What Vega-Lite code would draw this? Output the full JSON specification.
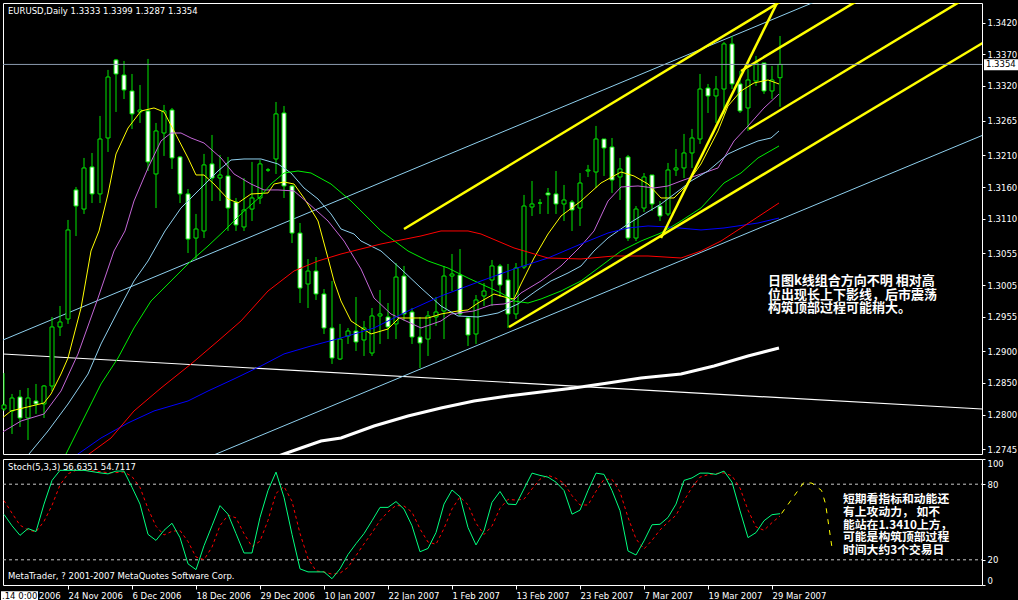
{
"$schema":"https://vega.github.io/schema/vega-lite/v6.json",
"background":"#000000",
"padding":{"left":0,"top":2,"right":0,"bottom":0},
"spacing":3,
"config":{"view":{"stroke":"#ffffff","strokeWidth":1},"scale":{"continuousPadding":0},"axis":{"labelColor":"#ffffff","tickColor":"#ffffff","domain":false,"grid":false,"title":null,"labelFont":"DejaVu Sans","labelFontSize":8.5}},
"datasets":{
"candles":[
{"i":0,"o":1.28088,"h":1.28657,"l":1.28057,"c":1.28152},
{"i":1,"o":1.28057,"h":1.28326,"l":1.27693,"c":1.28262},
{"i":2,"o":1.28278,"h":1.28389,"l":1.27804,"c":1.27946},
{"i":3,"o":1.27946,"h":1.2842,"l":1.27598,"c":1.28262},
{"i":4,"o":1.28215,"h":1.28484,"l":1.2801,"c":1.28168},
{"i":5,"o":1.28168,"h":1.28468,"l":1.27946,"c":1.28452},
{"i":6,"o":1.28452,"h":1.29544,"l":1.28373,"c":1.29386},
{"i":7,"o":1.29386,"h":1.29718,"l":1.29243,"c":1.29465},
{"i":8,"o":1.29512,"h":1.31079,"l":1.29434,"c":1.30921},
{"i":9,"o":1.31554,"h":1.31601,"l":1.30825,"c":1.313},
{"i":10,"o":1.31252,"h":1.3206,"l":1.31174,"c":1.31902},
{"i":11,"o":1.31918,"h":1.32139,"l":1.31347,"c":1.31491},
{"i":12,"o":1.31491,"h":1.32725,"l":1.31347,"c":1.3236},
{"i":13,"o":1.32376,"h":1.33453,"l":1.32155,"c":1.33341},
{"i":14,"o":1.33611,"h":1.33627,"l":1.32788,"c":1.33389},
{"i":15,"o":1.33373,"h":1.33595,"l":1.32993,"c":1.33136},
{"i":16,"o":1.3312,"h":1.33389,"l":1.32519,"c":1.32757},
{"i":17,"o":1.32788,"h":1.33215,"l":1.32614,"c":1.32819},
{"i":18,"o":1.32804,"h":1.33627,"l":1.31854,"c":1.31997},
{"i":19,"o":1.31807,"h":1.32614,"l":1.31268,"c":1.32487},
{"i":20,"o":1.32455,"h":1.32899,"l":1.32092,"c":1.32804},
{"i":21,"o":1.32819,"h":1.32851,"l":1.31886,"c":1.3206},
{"i":22,"o":1.32076,"h":1.32092,"l":1.31347,"c":1.31491},
{"i":23,"o":1.31491,"h":1.31569,"l":1.30556,"c":1.30777},
{"i":24,"o":1.30793,"h":1.31174,"l":1.30461,"c":1.30936},
{"i":25,"o":1.30905,"h":1.32124,"l":1.30793,"c":1.3195},
{"i":26,"o":1.31966,"h":1.32424,"l":1.31379,"c":1.31743},
{"i":27,"o":1.31743,"h":1.32108,"l":1.31379,"c":1.31791},
{"i":28,"o":1.31775,"h":1.32076,"l":1.30905,"c":1.31268},
{"i":29,"o":1.31363,"h":1.31427,"l":1.30905,"c":1.31},
{"i":30,"o":1.30968,"h":1.31743,"l":1.30905,"c":1.31237},
{"i":31,"o":1.31252,"h":1.31997,"l":1.31063,"c":1.31427},
{"i":32,"o":1.31427,"h":1.32029,"l":1.31332,"c":1.31966},
{"i":33,"o":1.3187,"h":1.319,"l":1.3184,"c":1.3187},
{"i":34,"o":1.32044,"h":1.32946,"l":1.31807,"c":1.32757},
{"i":35,"o":1.32772,"h":1.32883,"l":1.31427,"c":1.31617},
{"i":36,"o":1.31617,"h":1.31633,"l":1.30714,"c":1.30872},
{"i":37,"o":1.30872,"h":1.31031,"l":1.29765,"c":1.30002},
{"i":38,"o":1.30066,"h":1.30461,"l":1.29686,"c":1.30271},
{"i":39,"o":1.30271,"h":1.30493,"l":1.29813,"c":1.29908},
{"i":40,"o":1.29908,"h":1.29986,"l":1.29275,"c":1.2937},
{"i":41,"o":1.2937,"h":1.30113,"l":1.28801,"c":1.28895},
{"i":42,"o":1.28879,"h":1.29434,"l":1.28863,"c":1.29195},
{"i":43,"o":1.29243,"h":1.2937,"l":1.29117,"c":1.29322},
{"i":44,"o":1.29322,"h":1.2986,"l":1.29006,"c":1.29148},
{"i":45,"o":1.2918,"h":1.29481,"l":1.28927,"c":1.2937},
{"i":46,"o":1.28974,"h":1.29686,"l":1.28927,"c":1.2956},
{"i":47,"o":1.2956,"h":1.29971,"l":1.29117,"c":1.29592},
{"i":48,"o":1.29544,"h":1.29765,"l":1.29195,"c":1.29386},
{"i":49,"o":1.29434,"h":1.30398,"l":1.29195,"c":1.30176},
{"i":50,"o":1.30192,"h":1.30351,"l":1.29481,"c":1.29592},
{"i":51,"o":1.29623,"h":1.29686,"l":1.29117,"c":1.29227},
{"i":52,"o":1.29227,"h":1.29544,"l":1.28737,"c":1.29133},
{"i":53,"o":1.29195,"h":1.29639,"l":1.28927,"c":1.2956},
{"i":54,"o":1.29544,"h":1.2986,"l":1.29402,"c":1.29623},
{"i":55,"o":1.29639,"h":1.30351,"l":1.29195,"c":1.30192},
{"i":56,"o":1.30192,"h":1.30541,"l":1.29955,"c":1.30224},
{"i":57,"o":1.30208,"h":1.30619,"l":1.2956,"c":1.29592},
{"i":58,"o":1.29529,"h":1.2956,"l":1.29085,"c":1.29259},
{"i":59,"o":1.29275,"h":1.29892,"l":1.29117,"c":1.29813},
{"i":60,"o":1.29876,"h":1.30081,"l":1.29718,"c":1.29955},
{"i":61,"o":1.30129,"h":1.30446,"l":1.29718,"c":1.30351},
{"i":62,"o":1.30351,"h":1.30383,"l":1.2986,"c":1.3005},
{"i":63,"o":1.30129,"h":1.30383,"l":1.2937,"c":1.29592},
{"i":64,"o":1.29592,"h":1.30398,"l":1.29512,"c":1.30319},
{"i":65,"o":1.30335,"h":1.31475,"l":1.30303,"c":1.313},
{"i":66,"o":1.31284,"h":1.31696,"l":1.31142,"c":1.31332},
{"i":67,"o":1.31347,"h":1.31411,"l":1.31174,"c":1.31347},
{"i":68,"o":1.31506,"h":1.31585,"l":1.31174,"c":1.31475},
{"i":69,"o":1.31491,"h":1.31854,"l":1.31174,"c":1.31332},
{"i":70,"o":1.31332,"h":1.31633,"l":1.31063,"c":1.31395},
{"i":71,"o":1.31363,"h":1.31395,"l":1.30905,"c":1.31237},
{"i":72,"o":1.31268,"h":1.31822,"l":1.30984,"c":1.31664},
{"i":73,"o":1.31854,"h":1.3195,"l":1.31759,"c":1.3187},
{"i":74,"o":1.31838,"h":1.32567,"l":1.31585,"c":1.3236},
{"i":75,"o":1.3236,"h":1.3236,"l":1.31775,"c":1.32218},
{"i":76,"o":1.32234,"h":1.32376,"l":1.31506,"c":1.31711},
{"i":77,"o":1.31759,"h":1.3206,"l":1.31395,"c":1.31886},
{"i":78,"o":1.32076,"h":1.32108,"l":1.30746,"c":1.30793},
{"i":79,"o":1.30793,"h":1.313,"l":1.30746,"c":1.31252},
{"i":80,"o":1.31268,"h":1.31822,"l":1.31206,"c":1.31759},
{"i":81,"o":1.31791,"h":1.31791,"l":1.31221,"c":1.31332},
{"i":82,"o":1.313,"h":1.31379,"l":1.31063,"c":1.31142},
{"i":83,"o":1.31174,"h":1.31981,"l":1.31142,"c":1.3187},
{"i":84,"o":1.3187,"h":1.32202,"l":1.31775,"c":1.31902},
{"i":85,"o":1.31902,"h":1.3244,"l":1.31743,"c":1.32139},
{"i":86,"o":1.32139,"h":1.32519,"l":1.31902,"c":1.32376},
{"i":87,"o":1.3236,"h":1.33389,"l":1.32282,"c":1.33151},
{"i":88,"o":1.33167,"h":1.33231,"l":1.32772,"c":1.33041},
{"i":89,"o":1.33041,"h":1.33357,"l":1.32614,"c":1.33151},
{"i":90,"o":1.33151,"h":1.33895,"l":1.32757,"c":1.33864},
{"i":91,"o":1.33864,"h":1.3399,"l":1.33151,"c":1.33231},
{"i":92,"o":1.33231,"h":1.33436,"l":1.32772,"c":1.32804},
{"i":93,"o":1.32851,"h":1.33468,"l":1.32487,"c":1.33294},
{"i":94,"o":1.33278,"h":1.33674,"l":1.332,"c":1.33563},
{"i":95,"o":1.33563,"h":1.33563,"l":1.33073,"c":1.3312},
{"i":96,"o":1.3312,"h":1.33516,"l":1.32993,"c":1.33294},
{"i":97,"o":1.3333,"h":1.3399,"l":1.3287,"c":1.3354}
],
"ma":[
{"m":"y","i":-0.375,"p":1.2793},{"m":"y","i":0.875,"p":1.28057},{"m":"y","i":5,"p":1.28183},{"m":"y","i":5.875,"p":1.28326},{"m":"y","i":7.125,"p":1.28642},{"m":"y","i":8,"p":1.28895},{"m":"y","i":9.625,"p":1.29686},{"m":"y","i":10.875,"p":1.30588},{"m":"y","i":11.875,"p":1.30905},{"m":"y","i":13,"p":1.3149},{"m":"y","i":14,"p":1.32123},{"m":"y","i":15.5,"p":1.32534},{"m":"y","i":17.125,"p":1.32803},{"m":"y","i":18.75,"p":1.32851},{"m":"y","i":20,"p":1.32788},{"m":"y","i":21.25,"p":1.32487},{"m":"y","i":23,"p":1.3206},{"m":"y","i":24,"p":1.31791},{"m":"y","i":25,"p":1.31791},{"m":"y","i":26.25,"p":1.31648},{"m":"y","i":28,"p":1.31411},{"m":"y","i":29.25,"p":1.31348},{"m":"y","i":30.875,"p":1.3149},{"m":"y","i":33,"p":1.31506},{"m":"y","i":33.75,"p":1.31648},{"m":"y","i":35,"p":1.3168},{"m":"y","i":36.25,"p":1.31648},{"m":"y","i":37.5,"p":1.31427},{"m":"y","i":39.25,"p":1.31063},{"m":"y","i":40.5,"p":1.30477},{"m":"y","i":41.25,"p":1.30114},{"m":"y","i":42.125,"p":1.29797},{"m":"y","i":43.375,"p":1.29481},{"m":"y","i":45.875,"p":1.29275},{"m":"y","i":48,"p":1.29354},{"m":"y","i":49.375,"p":1.29528},{"m":"y","i":53,"p":1.29528},{"m":"y","i":54.625,"p":1.29591},{"m":"y","i":56.75,"p":1.29639},{"m":"y","i":58,"p":1.29655},{"m":"y","i":59.25,"p":1.29765},{"m":"y","i":61.25,"p":1.29908},{"m":"y","i":63,"p":1.29844},{"m":"y","i":63.75,"p":1.29829},{"m":"y","i":64.625,"p":1.30066},{"m":"y","i":66.25,"p":1.30477},{"m":"y","i":68,"p":1.30857},{"m":"y","i":69.625,"p":1.31142},{"m":"y","i":72.125,"p":1.31379},{"m":"y","i":74.625,"p":1.31664},{"m":"y","i":77.125,"p":1.31838},{"m":"y","i":78.75,"p":1.31775},{"m":"y","i":80.5,"p":1.31648},{"m":"y","i":82.125,"p":1.31427},{"m":"y","i":83.75,"p":1.31427},{"m":"y","i":85,"p":1.31585},{"m":"y","i":87.125,"p":1.31965},{"m":"y","i":89.25,"p":1.32487},{"m":"y","i":90.5,"p":1.32883},{"m":"y","i":92.125,"p":1.3312},{"m":"y","i":93.75,"p":1.33247},{"m":"y","i":95.5,"p":1.33294},{"m":"y","i":96.875,"p":1.33231},
{"m":"v","i":-0.375,"p":1.27708},{"m":"v","i":2.125,"p":1.27898},{"m":"v","i":5,"p":1.28009},{"m":"v","i":7.125,"p":1.28373},{"m":"v","i":9.25,"p":1.28959},{"m":"v","i":11.75,"p":1.29844},{"m":"v","i":13.75,"p":1.30588},{"m":"v","i":15.125,"p":1.30905},{"m":"v","i":16.25,"p":1.31379},{"m":"v","i":18,"p":1.31902},{"m":"v","i":19.625,"p":1.32329},{"m":"v","i":20.875,"p":1.32455},{"m":"v","i":22.125,"p":1.32455},{"m":"v","i":23.375,"p":1.32376},{"m":"v","i":25,"p":1.32297},{"m":"v","i":27.125,"p":1.3206},{"m":"v","i":28.75,"p":1.31807},{"m":"v","i":30.875,"p":1.31648},{"m":"v","i":32.5,"p":1.31554},{"m":"v","i":34.25,"p":1.31554},{"m":"v","i":36.25,"p":1.31538},{"m":"v","i":38,"p":1.31348},{"m":"v","i":40.5,"p":1.31063},{"m":"v","i":42.5,"p":1.30746},{"m":"v","i":44.625,"p":1.30303},{"m":"v","i":46.25,"p":1.29844},{"m":"v","i":48.375,"p":1.29591},{"m":"v","i":52.125,"p":1.2937},{"m":"v","i":54.625,"p":1.29481},{"m":"v","i":55.875,"p":1.29591},{"m":"v","i":58.75,"p":1.29639},{"m":"v","i":60.875,"p":1.29734},{"m":"v","i":62.5,"p":1.2975},{"m":"v","i":63.625,"p":1.29797},{"m":"v","i":64.625,"p":1.29924},{"m":"v","i":67.125,"p":1.30114},{"m":"v","i":69.625,"p":1.30351},{"m":"v","i":72.125,"p":1.30667},{"m":"v","i":73.75,"p":1.30905},{"m":"v","i":75.5,"p":1.31379},{"m":"v","i":77.125,"p":1.31601},{"m":"v","i":79.25,"p":1.31617},{"m":"v","i":81.25,"p":1.31585},{"m":"v","i":83,"p":1.31617},{"m":"v","i":84.625,"p":1.31696},{"m":"v","i":87.125,"p":1.31807},{"m":"v","i":89.25,"p":1.31902},{"m":"v","i":91.25,"p":1.32329},{"m":"v","i":93,"p":1.32566},{"m":"v","i":95,"p":1.32851},{"m":"v","i":96.875,"p":1.33072},
{"m":"s","i":1.375,"p":1.27107},{"m":"s","i":3.125,"p":1.27376},{"m":"s","i":5.5,"p":1.2774},{"m":"s","i":8,"p":1.28167},{"m":"s","i":10.5,"p":1.28642},{"m":"s","i":12.125,"p":1.29117},{"m":"s","i":14.25,"p":1.29639},{"m":"s","i":16.25,"p":1.30114},{"m":"s","i":18,"p":1.3043},{"m":"s","i":20.125,"p":1.30905},{"m":"s","i":22.125,"p":1.31269},{"m":"s","i":24.625,"p":1.31585},{"m":"s","i":26.75,"p":1.31854},{"m":"s","i":28.375,"p":1.32028},{"m":"s","i":30,"p":1.32044},{"m":"s","i":32.125,"p":1.32044},{"m":"s","i":34.25,"p":1.31965},{"m":"s","i":35.875,"p":1.31822},{"m":"s","i":37.5,"p":1.31585},{"m":"s","i":39.25,"p":1.31411},{"m":"s","i":40.875,"p":1.31174},{"m":"s","i":42.125,"p":1.30936},{"m":"s","i":43.75,"p":1.30857},{"m":"s","i":44.625,"p":1.30746},{"m":"s","i":47.125,"p":1.30588},{"m":"s","i":49.625,"p":1.30303},{"m":"s","i":52.125,"p":1.30003},{"m":"s","i":54.625,"p":1.29718},{"m":"s","i":56.75,"p":1.2956},{"m":"s","i":59.25,"p":1.29544},{"m":"s","i":61.75,"p":1.29607},{"m":"s","i":64.25,"p":1.2975},{"m":"s","i":66.5,"p":1.29955},{"m":"s","i":68.375,"p":1.30114},{"m":"s","i":70.5,"p":1.3024},{"m":"s","i":72.125,"p":1.30351},{"m":"s","i":73.75,"p":1.30588},{"m":"s","i":75.5,"p":1.30794},{"m":"s","i":78,"p":1.31015},{"m":"s","i":79.625,"p":1.31142},{"m":"s","i":82.125,"p":1.31332},{"m":"s","i":84.625,"p":1.31569},{"m":"s","i":85.875,"p":1.31696},{"m":"s","i":88,"p":1.31854},{"m":"s","i":90.5,"p":1.32123},{"m":"s","i":92.125,"p":1.32218},{"m":"s","i":94.25,"p":1.32329},{"m":"s","i":95.875,"p":1.32376},{"m":"s","i":96.875,"p":1.32487},
{"m":"g","i":6.75,"p":1.27123},{"m":"g","i":7.75,"p":1.27376},{"m":"g","i":10,"p":1.27946},{"m":"g","i":12.125,"p":1.28484},{"m":"g","i":14.25,"p":1.28895},{"m":"g","i":16.25,"p":1.2937},{"m":"g","i":18.375,"p":1.29797},{"m":"g","i":20.875,"p":1.30114},{"m":"g","i":23.375,"p":1.3043},{"m":"g","i":25.5,"p":1.30667},{"m":"g","i":27.5,"p":1.30905},{"m":"g","i":29.625,"p":1.31174},{"m":"g","i":32.125,"p":1.31459},{"m":"g","i":33.375,"p":1.31648},{"m":"g","i":35,"p":1.31822},{"m":"g","i":36.75,"p":1.31854},{"m":"g","i":38.375,"p":1.31822},{"m":"g","i":40.875,"p":1.31648},{"m":"g","i":43.375,"p":1.31379},{"m":"g","i":45,"p":1.31174},{"m":"g","i":47.125,"p":1.30905},{"m":"g","i":50.5,"p":1.30588},{"m":"g","i":53,"p":1.3043},{"m":"g","i":55.5,"p":1.30319},{"m":"g","i":58,"p":1.30161},{"m":"g","i":59.625,"p":1.30066},{"m":"g","i":62.125,"p":1.29924},{"m":"g","i":63.75,"p":1.29797},{"m":"g","i":65.5,"p":1.29765},{"m":"g","i":67.125,"p":1.29829},{"m":"g","i":69.625,"p":1.29955},{"m":"g","i":72.125,"p":1.30114},{"m":"g","i":74.625,"p":1.30351},{"m":"g","i":77.125,"p":1.30588},{"m":"g","i":79.625,"p":1.30746},{"m":"g","i":82.125,"p":1.30873},{"m":"g","i":84.625,"p":1.31063},{"m":"g","i":87.125,"p":1.31269},{"m":"g","i":90,"p":1.31664},{"m":"g","i":92.125,"p":1.31822},{"m":"g","i":94.25,"p":1.3206},{"m":"g","i":96.875,"p":1.3225},
{"m":"b","i":6.5,"p":1.27139},{"m":"b","i":9.25,"p":1.27376},{"m":"b","i":12.125,"p":1.27629},{"m":"b","i":15.5,"p":1.27867},{"m":"b","i":18.75,"p":1.28057},{"m":"b","i":23,"p":1.28215},{"m":"b","i":25.5,"p":1.28373},{"m":"b","i":28.75,"p":1.28563},{"m":"b","i":32.125,"p":1.28769},{"m":"b","i":35,"p":1.28959},{"m":"b","i":38.375,"p":1.29085},{"m":"b","i":42.125,"p":1.29212},{"m":"b","i":46.25,"p":1.2937},{"m":"b","i":50.5,"p":1.29639},{"m":"b","i":54.625,"p":1.29876},{"m":"b","i":59.625,"p":1.30114},{"m":"b","i":63.75,"p":1.30303},{"m":"b","i":68,"p":1.30477},{"m":"b","i":72.125,"p":1.30699},{"m":"b","i":75.5,"p":1.30873},{"m":"b","i":78,"p":1.30952},{"m":"b","i":80.5,"p":1.30984},{"m":"b","i":83,"p":1.30968},{"m":"b","i":87.125,"p":1.30921},{"m":"b","i":90,"p":1.30952},{"m":"b","i":94.25,"p":1.31031},{"m":"b","i":96.875,"p":1.3111},
{"m":"r","i":7.875,"p":1.27123},{"m":"r","i":10.625,"p":1.27376},{"m":"r","i":13.375,"p":1.27629},{"m":"r","i":16.25,"p":1.28057},{"m":"r","i":19.625,"p":1.2842},{"m":"r","i":23.375,"p":1.288},{"m":"r","i":26.75,"p":1.29164},{"m":"r","i":29.625,"p":1.29481},{"m":"r","i":33,"p":1.29955},{"m":"r","i":36.25,"p":1.30272},{"m":"r","i":39.25,"p":1.3043},{"m":"r","i":42.125,"p":1.30541},{"m":"r","i":47.125,"p":1.30699},{"m":"r","i":52.125,"p":1.30826},{"m":"r","i":54.625,"p":1.30905},{"m":"r","i":58,"p":1.30905},{"m":"r","i":59.625,"p":1.30857},{"m":"r","i":63.75,"p":1.30636},{"m":"r","i":68,"p":1.30477},{"m":"r","i":72.125,"p":1.30462},{"m":"r","i":76.25,"p":1.30509},{"m":"r","i":80.5,"p":1.30509},{"m":"r","i":84.625,"p":1.30477},{"m":"r","i":87.125,"p":1.30588},{"m":"r","i":89.625,"p":1.30746},{"m":"r","i":92.125,"p":1.30952},{"m":"r","i":96.875,"p":1.31348}
],
"ma200":[{"i":29.625,"p":1.27139},{"i":35,"p":1.27376},{"i":37.125,"p":1.27471},{"i":39.625,"p":1.27582},{"i":42.125,"p":1.27629},{"i":46.25,"p":1.27819},{"i":50.5,"p":1.27977},{"i":54.625,"p":1.28104},{"i":58.75,"p":1.28215},{"i":63,"p":1.28294},{"i":67.125,"p":1.28357},{"i":71.25,"p":1.2842},{"i":75.5,"p":1.285},{"i":79.625,"p":1.28579},{"i":84.625,"p":1.28642},{"i":88.75,"p":1.28769},{"i":93,"p":1.28927},{"i":96.875,"p":1.29053}],
"twhite":[{"i":-0.125,"p":1.28958},{"i":122.625,"p":1.28085}],
"tlb":[{"id":"u","i":-0.125,"p":1.2918},{"id":"u","i":101.25,"p":1.34525},{"id":"d","i":25.625,"p":1.27329},{"id":"d","i":122.625,"p":1.32435}],
"tyel":[{"id":"A","i":50,"p":1.30936},{"id":"A","i":97.25,"p":1.3455},{"id":"B","i":82.125,"p":1.30794},{"id":"B","i":96.75,"p":1.34544},{"id":"C","i":63.125,"p":1.29386},{"id":"C","i":122.625,"p":1.33902},{"id":"D","i":93.125,"p":1.32519},{"id":"D","i":119.625,"p":1.34544},{"id":"E","i":92.125,"p":1.33436},{"id":"E","i":106.625,"p":1.34544}],
"bid":[{"i":-0.125,"i2":122.25,"p":1.3354}],
"bidbox":[{"i":122.5,"i2":126.75,"p":1.33622,"p2":1.33448}],
"bidtext":[{"i":122.75,"p":1.3354,"t":"1.3354"}],
"mtext":[{"i":0.5,"p":1.34386,"t":"EURUSD,Daily  1.3333 1.3399 1.3287 1.3354"}],
"cjk1pos":[{"i":95.5,"p":1.30205}],
"stoch":[
{"i":0,"m":56,"s":67},{"i":1,"m":47,"s":57},{"i":2,"m":39.4,"s":47.5},{"i":3,"m":44.8,"s":43.7},{"i":4,"m":42.4,"s":42.2},{"i":5,"m":64.2,"s":50.5},{"i":6,"m":83,"s":63.2},{"i":7,"m":91,"s":79.4},{"i":8,"m":91,"s":88.3},{"i":9,"m":91,"s":91},{"i":10,"m":91,"s":91},{"i":11,"m":90,"s":90.7},{"i":12,"m":89,"s":90},{"i":13,"m":88.2,"s":89.1},{"i":14,"m":90.4,"s":89.2},{"i":15,"m":90.4,"s":89.7},{"i":16,"m":77.6,"s":86.1},{"i":17,"m":64.2,"s":77.4},{"i":18,"m":40.2,"s":60.7},{"i":19,"m":35.4,"s":46.6},{"i":20,"m":43.4,"s":39.7},{"i":21,"m":49,"s":42.6},{"i":22,"m":37.6,"s":43.3},{"i":23,"m":16.8,"s":34.5},{"i":24,"m":12.2,"s":22.2},{"i":25,"m":31.2,"s":20.1},{"i":26,"m":47,"s":30.1},{"i":27,"m":63,"s":47.1},{"i":28,"m":56.2,"s":55.4},{"i":29,"m":40.8,"s":53.3},{"i":30,"m":25.4,"s":40.8},{"i":31,"m":25.4,"s":30.5},{"i":32,"m":53.6,"s":34.8},{"i":33,"m":75,"s":51.3},{"i":34,"m":89.6,"s":72.7},{"i":35,"m":69.6,"s":78.1},{"i":36,"m":40.2,"s":66.5},{"i":37,"m":12.8,"s":40.9},{"i":38,"m":10.4,"s":21.1},{"i":39,"m":10.4,"s":11.2},{"i":40,"m":10.4,"s":10.4},{"i":41,"m":5,"s":8.6},{"i":42,"m":12.8,"s":9.4},{"i":43,"m":24.2,"s":14},{"i":44,"m":32.8,"s":23.3},{"i":45,"m":40.8,"s":32.6},{"i":46,"m":51,"s":41.5},{"i":47,"m":61.6,"s":51.1},{"i":48,"m":61.6,"s":58.1},{"i":49,"m":66.2,"s":63.1},{"i":50,"m":60.2,"s":62.7},{"i":51,"m":47,"s":57.8},{"i":52,"m":26.4,"s":44.5},{"i":53,"m":29,"s":34.1},{"i":54,"m":41.6,"s":32.3},{"i":55,"m":64.2,"s":44.9},{"i":56,"m":75.4,"s":60.4},{"i":57,"m":70,"s":69.9},{"i":58,"m":45.6,"s":63.7},{"i":59,"m":31.8,"s":49.1},{"i":60,"m":43,"s":40.1},{"i":61,"m":65.6,"s":46.8},{"i":62,"m":74.2,"s":60.9},{"i":63,"m":64.2,"s":68},{"i":64,"m":63.8,"s":67.4},{"i":65,"m":76.3,"s":68.1},{"i":66,"m":88.8,"s":76.3},{"i":67,"m":87,"s":84},{"i":68,"m":85.6,"s":87.1},{"i":69,"m":81.6,"s":84.7},{"i":70,"m":75,"s":80.7},{"i":71,"m":56.2,"s":70.9},{"i":72,"m":59.4,"s":63.5},{"i":73,"m":75,"s":63.5},{"i":74,"m":88.8,"s":74.4},{"i":75,"m":87.8,"s":83.9},{"i":76,"m":75,"s":83.9},{"i":77,"m":59,"s":73.9},{"i":78,"m":27,"s":53.7},{"i":79,"m":23.8,"s":36.6},{"i":80,"m":35,"s":28.6},{"i":81,"m":47.8,"s":35.5},{"i":82,"m":48.2,"s":43.7},{"i":83,"m":53.6,"s":49.9},{"i":84,"m":64.2,"s":55.3},{"i":85,"m":83,"s":67},{"i":86,"m":85,"s":77.4},{"i":87,"m":88.8,"s":85.6},{"i":88,"m":88.8,"s":87.5},{"i":89,"m":87.8,"s":88.5},{"i":90,"m":90.4,"s":89},{"i":91,"m":81.6,"s":86.6},{"i":92,"m":59,"s":77},{"i":93,"m":37.6,"s":59.4},{"i":94,"m":41.6,"s":46.1},{"i":95,"m":51,"s":43.4},{"i":96,"m":55.8,"s":49.5},{"i":97,"m":56.6,"s":54.7}
],
"syel":[{"i":97.2,"v":56.8},{"i":100,"v":81.6},{"i":101,"v":80.8},{"i":102.2,"v":75},{"i":102.7,"v":64.2},{"i":103.5,"v":29.6}],
"lv":[{"i":-0.125,"i2":122.25,"v":20},{"i":-0.125,"i2":122.25,"v":80}],
"stext":[{"i":0.5,"v":93.3,"t":"Stoch(5,3,3) 56.6351 54.7117"},{"i":0.5,"v":6.9,"t":"MetaTrader, ? 2001-2007 MetaQuotes Software Corp."},{"i":4.375,"v":-9,"t":"2006"}],
"cjk2pos":[{"i":104.875,"v":72.0}],
"dbox":[{"i":-0.375,"i2":4.25,"v":-5,"v2":-13}],
"dtext":[{"i":-0.25,"v":-9,"t":".14 0:00"}]
},
"vconcat":[
{
"width":979,"height":451,
"encoding":{
"x":{"field":"i","type":"quantitative","scale":{"domain":[-0.125,122.25],"nice":false,"zero":false,"padding":0},"axis":null},
"y":{"field":"p","type":"quantitative","scale":{"domain":[1.27376,1.34512],"nice":false,"zero":false,"padding":0},"axis":{"orient":"right","values":[1.2745,1.28,1.285,1.29,1.2955,1.3005,1.3055,1.311,1.316,1.321,1.3265,1.332,1.337,1.342],"format":".4f","tickSize":3,"labelPadding":2,"labelOverlap":false}}
},
"layer":[
{"data":{"name":"twhite"},"mark":{"type":"line","color":"#ffffff","strokeWidth":1.2,"clip":true}},
{"data":{"name":"tlb"},"mark":{"type":"line","color":"#8fd0ee","strokeWidth":1,"clip":true},"encoding":{"detail":{"field":"id"}}},
{"data":{"name":"candles"},"mark":{"type":"rule","color":"#00e600","strokeWidth":1},"encoding":{"y":{"field":"l","type":"quantitative","scale":{"domain":[1.27376,1.34512],"nice":false,"zero":false,"padding":0},"axis":{"orient":"right","values":[1.2745,1.28,1.285,1.29,1.2955,1.3005,1.3055,1.311,1.316,1.321,1.3265,1.332,1.337,1.342],"format":".4f","tickSize":3,"labelPadding":2,"labelOverlap":false}},"y2":{"field":"h"}}},
{"data":{"name":"candles"},"mark":{"type":"bar","size":4,"stroke":"#00e600","strokeWidth":1},"encoding":{"y":{"field":"o","type":"quantitative","scale":{"domain":[1.27376,1.34512],"nice":false,"zero":false,"padding":0},"axis":{"orient":"right","values":[1.2745,1.28,1.285,1.29,1.2955,1.3005,1.3055,1.311,1.316,1.321,1.3265,1.332,1.337,1.342],"format":".4f","tickSize":3,"labelPadding":2,"labelOverlap":false}},"y2":{"field":"c"},"fill":{"condition":{"test":"datum.c < datum.o","value":"#ffffff"},"value":"#000000"}}},
{"data":{"name":"ma"},"mark":{"type":"line","strokeWidth":1,"clip":true},"encoding":{"color":{"field":"m","type":"nominal","scale":{"domain":["y","v","s","g","b","r"],"range":["#ffff00","#c466d6","#8fd0ee","#00ee00","#0000ff","#ff0000"]},"legend":null}}},
{"data":{"name":"ma200"},"mark":{"type":"line","color":"#ffffff","strokeWidth":3,"clip":true}},
{"data":{"name":"tyel"},"mark":{"type":"line","color":"#ffff00","strokeWidth":2.5,"clip":true},"encoding":{"detail":{"field":"id"}}},
{"data":{"name":"bid"},"mark":{"type":"rule","color":"#8c9bb0","strokeWidth":1},"encoding":{"x2":{"field":"i2"}}},
{"data":{"name":"mtext"},"mark":{"type":"text","align":"left","baseline":"middle","font":"DejaVu Sans","fontSize":8.5,"color":"#ffffff"},"encoding":{"text":{"field":"t"}}},
{"data":{"name":"cjk1pos"},"mark":{"type":"text","align":"left","baseline":"top","lineHeight":13.3,"font":"Noto Sans CJK SC","fontSize":13,"fontWeight":"bold","color":"#ffffff"},"encoding":{"text":{"value":["日图k线组合方向不明 相对高","位出现长上下影线，后市震荡","构筑顶部过程可能稍大。"]}}},
{"data":{"name":"bidbox"},"mark":{"type":"rect","color":"#ffffff","clip":false},"encoding":{"x2":{"field":"i2"},"y2":{"field":"p2"}}},
{"data":{"name":"bidtext"},"mark":{"type":"text","align":"left","baseline":"middle","font":"DejaVu Sans","fontSize":8.5,"color":"#000000"},"encoding":{"text":{"field":"t"}}}
]
},
{
"width":979,"height":126,
"encoding":{
"x":{"field":"i","type":"quantitative","scale":{"domain":[-0.125,122.25],"nice":false,"zero":false,"padding":0},"axis":{"orient":"bottom","values":[8,16,24,32,40,48,56,64,72,80,88,96],"labelExpr":"['14 Nov 2006','24 Nov 2006','6 Dec 2006','18 Dec 2006','29 Dec 2006','10 Jan 2007','22 Jan 2007','1 Feb 2007','13 Feb 2007','23 Feb 2007','7 Mar 2007','19 Mar 2007','29 Mar 2007'][round(datum.value/8)]","labelAlign":"left","tickSize":4,"labelPadding":2,"labelOverlap":false,"labelFlush":false}},
"y":{"field":"v","type":"quantitative","scale":{"domain":[0,100],"nice":false,"zero":false,"padding":0},"axis":{"orient":"right","values":[0,20,80,100],"format":"d","tickSize":3,"labelPadding":2,"labelFlush":true}}
},
"layer":[
{"data":{"name":"lv"},"mark":{"type":"rule","color":"#c8c8c8","strokeDash":[3,3],"strokeWidth":1},"encoding":{"x2":{"field":"i2"}}},
{"data":{"name":"stoch"},"mark":{"type":"line","color":"#ff0000","strokeWidth":1,"strokeDash":[3,3]},"encoding":{"y":{"field":"s","type":"quantitative","scale":{"domain":[0,100],"nice":false,"zero":false,"padding":0},"axis":{"orient":"right","values":[0,20,80,100],"format":"d","tickSize":3,"labelPadding":2,"labelFlush":true}}}},
{"data":{"name":"stoch"},"mark":{"type":"line","color":"#00ff7f","strokeWidth":1},"encoding":{"y":{"field":"m","type":"quantitative","scale":{"domain":[0,100],"nice":false,"zero":false,"padding":0},"axis":{"orient":"right","values":[0,20,80,100],"format":"d","tickSize":3,"labelPadding":2,"labelFlush":true}}}},
{"data":{"name":"syel"},"mark":{"type":"line","color":"#ffff00","strokeWidth":1,"strokeDash":[5,6]}},
{"data":{"name":"dbox"},"mark":{"type":"rect","color":"#ffffff","clip":false},"encoding":{"x2":{"field":"i2"},"y2":{"field":"v2"}}},
{"data":{"name":"dtext"},"mark":{"type":"text","align":"left","baseline":"middle","font":"DejaVu Sans","fontSize":8.5,"color":"#000000"},"encoding":{"text":{"field":"t"}}},
{"data":{"name":"stext"},"mark":{"type":"text","align":"left","baseline":"middle","font":"DejaVu Sans","fontSize":8.5,"color":"#ffffff"},"encoding":{"text":{"field":"t"}}},
{"data":{"name":"cjk2pos"},"mark":{"type":"text","align":"left","baseline":"top","lineHeight":12.7,"font":"Noto Sans CJK SC","fontSize":11.8,"fontWeight":"bold","color":"#ffffff"},"encoding":{"text":{"value":["短期看指标和动能还","有上攻动力，  如不","能站在1.3410上方，","可能是构筑顶部过程","时间大约3个交易日"]}}}
]
}
]
}
